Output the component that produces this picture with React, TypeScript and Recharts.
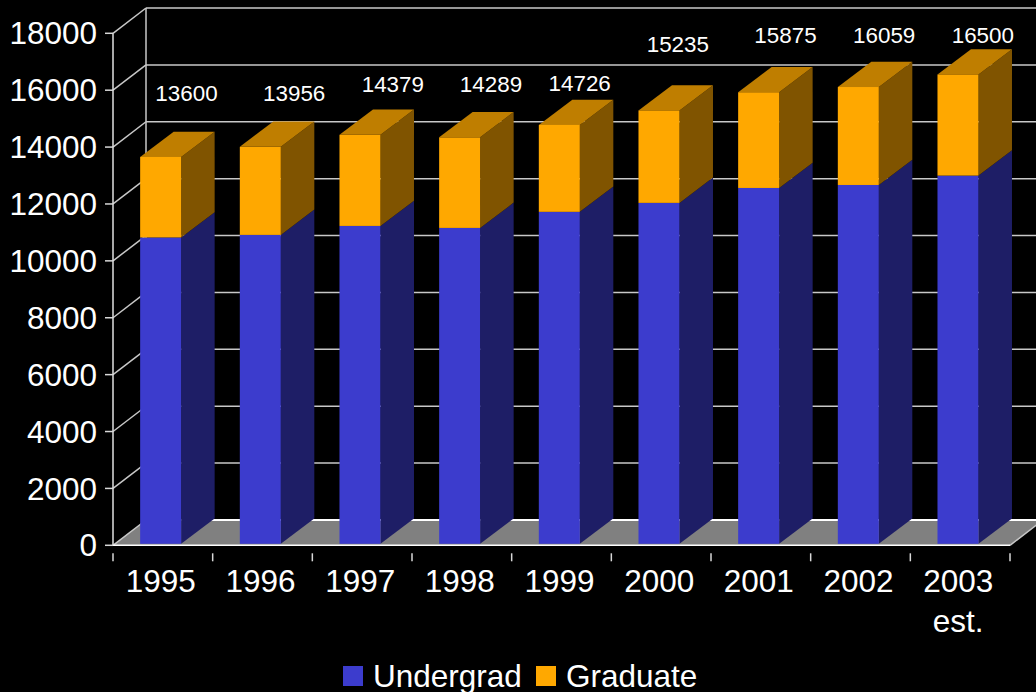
import React from "react";
import { BarChart, Bar, XAxis, YAxis, CartesianGrid, Legend, LabelList } from "recharts";

const years = ["1995", "1996", "1997", "1998", "1999", "2000", "2001", "2002", "2003\nest."];
const totals = [13600, 13956, 14379, 14289, 14726, 15235, 15875, 16059, 16500];
const undergrad = [10770, 10860, 11175, 11105, 11670, 11985, 12510, 12615, 12945];
const graduate = [2830, 3096, 3204, 3184, 3056, 3250, 3365, 3444, 3555];
const yTicks = [0, 2000, 4000, 6000, 8000, 10000, 12000, 14000, 16000, 18000];

// Label placement relative to each column (layout only)
const labelDx = [24, 32, 31, 29.5, 18.5, 17, 25, 24, 23];
const labelLift = [64.5, 54.4, 51.4, 53.9, 42.5, 67, 57.8, 52.6, 40];

const W = 1036;
const H = 692;
const FONT = '"Liberation Sans", Arial, sans-serif';
const DEPTH_X = 33;
const BAR_DEPTH_X = 33.5;
const DEPTH_Y = 25.3;
const BAR_SHIFT_X = -1.85;
const BAR_SHIFT_Y = -1.5;
const BAND = (1010 - 113) / 9;
const GRID = "#c8c8c8";

const data = years.map((year, i) => ({
  year,
  total: totals[i],
  undergrad: undergrad[i],
  graduate: graduate[i],
}));

function pts(list: number[][]) {
  return list.map((p) => p.join(",")).join(" ");
}

function box(props: any, front: string, side: string, top?: string) {
  const x = props.x + BAR_SHIFT_X;
  const y = props.y + BAR_SHIFT_Y;
  const w = props.width;
  const h = props.height;
  return (
    <g>
      <polygon
        points={pts([
          [x + w, y],
          [x + w + BAR_DEPTH_X, y - DEPTH_Y],
          [x + w + BAR_DEPTH_X, y + h - DEPTH_Y],
          [x + w, y + h],
        ])}
        fill={side}
      />
      {top ? (
        <polygon
          points={pts([
            [x, y],
            [x + BAR_DEPTH_X, y - DEPTH_Y],
            [x + w + BAR_DEPTH_X, y - DEPTH_Y],
            [x + w, y],
          ])}
          fill={top}
        />
      ) : null}
      <rect x={x} y={y} width={w} height={h} fill={front} />
    </g>
  );
}

const BlueShape = (props: any) => box(props, "#3c3ccd", "#1e1e66");
const OrangeShape = (props: any) => box(props, "#ffa800", "#805400", "#bf7e00");

function gridLine(props: any) {
  const { x1, x2, y1, index } = props;
  const backY = y1 - DEPTH_Y;
  const backX = x1 + DEPTH_X;
  const isFloor = Math.abs(y1 - 545.3) < 1;
  const isTop = Math.abs(y1 - 33.3) < 1;
  return (
    <g key={`wall-${index}`}>
      {isFloor ? (
        <polygon
          points={pts([
            [x1, y1],
            [backX, backY],
            [x2 + DEPTH_X, backY],
            [x2, y1],
          ])}
          fill="#808080"
        />
      ) : null}
      {isTop ? (
        <line x1={backX} x2={backX} y1={backY} y2={545.3 - DEPTH_Y} stroke={GRID} strokeWidth={1.5} />
      ) : null}
      <line x1={x1} y1={y1} x2={backX} y2={backY} stroke={GRID} strokeWidth={1.5} />
      <line x1={backX} y1={backY} x2={W} y2={backY} stroke={isFloor ? "#ffffff" : GRID} strokeWidth={isFloor ? 2 : 1.5} />
      {isFloor ? (
        <line x1={x2} y1={y1} x2={x2 + DEPTH_X} y2={backY} stroke={GRID} strokeWidth={1.5} />
      ) : null}
    </g>
  );
}

function YearTick(props: any) {
  const { x, y, payload, index } = props;
  const lines = String(payload.value).split("\n");
  return (
    <g>
      <line x1={x - BAND / 2} x2={x - BAND / 2} y1={y} y2={y + 8} stroke="#d8d8d8" strokeWidth={1.5} />
      {index === years.length - 1 ? (
        <line x1={x + BAND / 2} x2={x + BAND / 2} y1={y} y2={y + 8} stroke="#d8d8d8" strokeWidth={1.5} />
      ) : null}
      {lines.map((text, i) => (
        <text
          key={text}
          x={x - 2}
          y={592 + i * 40}
          textAnchor="middle"
          fill="#ffffff"
          fontSize={31.5}
          fontFamily={FONT}
        >
          {text}
        </text>
      ))}
    </g>
  );
}

function TotalLabel(props: any) {
  const { x, y, width, value, index } = props;
  return (
    <text
      x={x + width / 2 + labelDx[index]}
      y={y - labelLift[index]}
      textAnchor="middle"
      dominantBaseline="central"
      fill="#ffffff"
      fontSize={22.4}
      fontFamily={FONT}
    >
      {value}
    </text>
  );
}

function LegendRow(props: any) {
  const items = props.payload || [];
  return (
    <div style={{ display: "flex", alignItems: "center", fontFamily: FONT, fontSize: 31.5, color: "#fff", lineHeight: "30px" }}>
      {items.map((item: any) => (
        <div key={item.value} style={{ display: "flex", alignItems: "center", marginRight: 14.2 }}>
          <div style={{ width: 20, height: 20, background: item.color, marginRight: 10 }} />
          <span style={{ whiteSpace: "nowrap" }}>{item.value}</span>
        </div>
      ))}
    </div>
  );
}

export default function App() {
  return (
    <div style={{ position: "absolute", left: 0, top: 0, width: W, height: H, background: "#000", overflow: "hidden" }}>
      <BarChart
        width={W}
        height={H}
        data={data}
        margin={{ top: 33.3, right: 26, bottom: 46.7, left: 0 }}
        barCategoryGap={0}
        style={{ fontFamily: FONT }}
      >
        <CartesianGrid vertical={false} horizontal={gridLine as any} />
        <XAxis
          dataKey="year"
          height={100}
          interval={0}
          axisLine={{ stroke: "#ffffff", strokeWidth: 1.5 }}
          tickLine={false}
          tick={<YearTick />}
        />
        <YAxis
          width={113}
          domain={[0, 18000]}
          ticks={yTicks}
          interval={0}
          axisLine={{ stroke: "#e0e0e0", strokeWidth: 1.5 }}
          tickLine={{ stroke: "#d8d8d8", strokeWidth: 1.5 }}
          tickSize={8}
          tickMargin={8}
          tick={{ fill: "#ffffff", fontSize: 31.5, fontFamily: FONT }}
        />
        <Legend
          layout="horizontal"
          align="center"
          verticalAlign="middle"
          itemSorter={null}
          content={<LegendRow />}
          wrapperStyle={{ left: 343, top: 661, width: 400, height: 30, margin: 0 }}
        />
        <Bar dataKey="undergrad" name="Undergrad" stackId="a" fill="#3c3ccd" barSize={41} shape={BlueShape} isAnimationActive={false} />
        <Bar dataKey="graduate" name="Graduate" stackId="a" fill="#ffa800" barSize={41} shape={OrangeShape} isAnimationActive={false}>
          <LabelList dataKey="total" content={<TotalLabel />} />
        </Bar>
      </BarChart>
    </div>
  );
}
